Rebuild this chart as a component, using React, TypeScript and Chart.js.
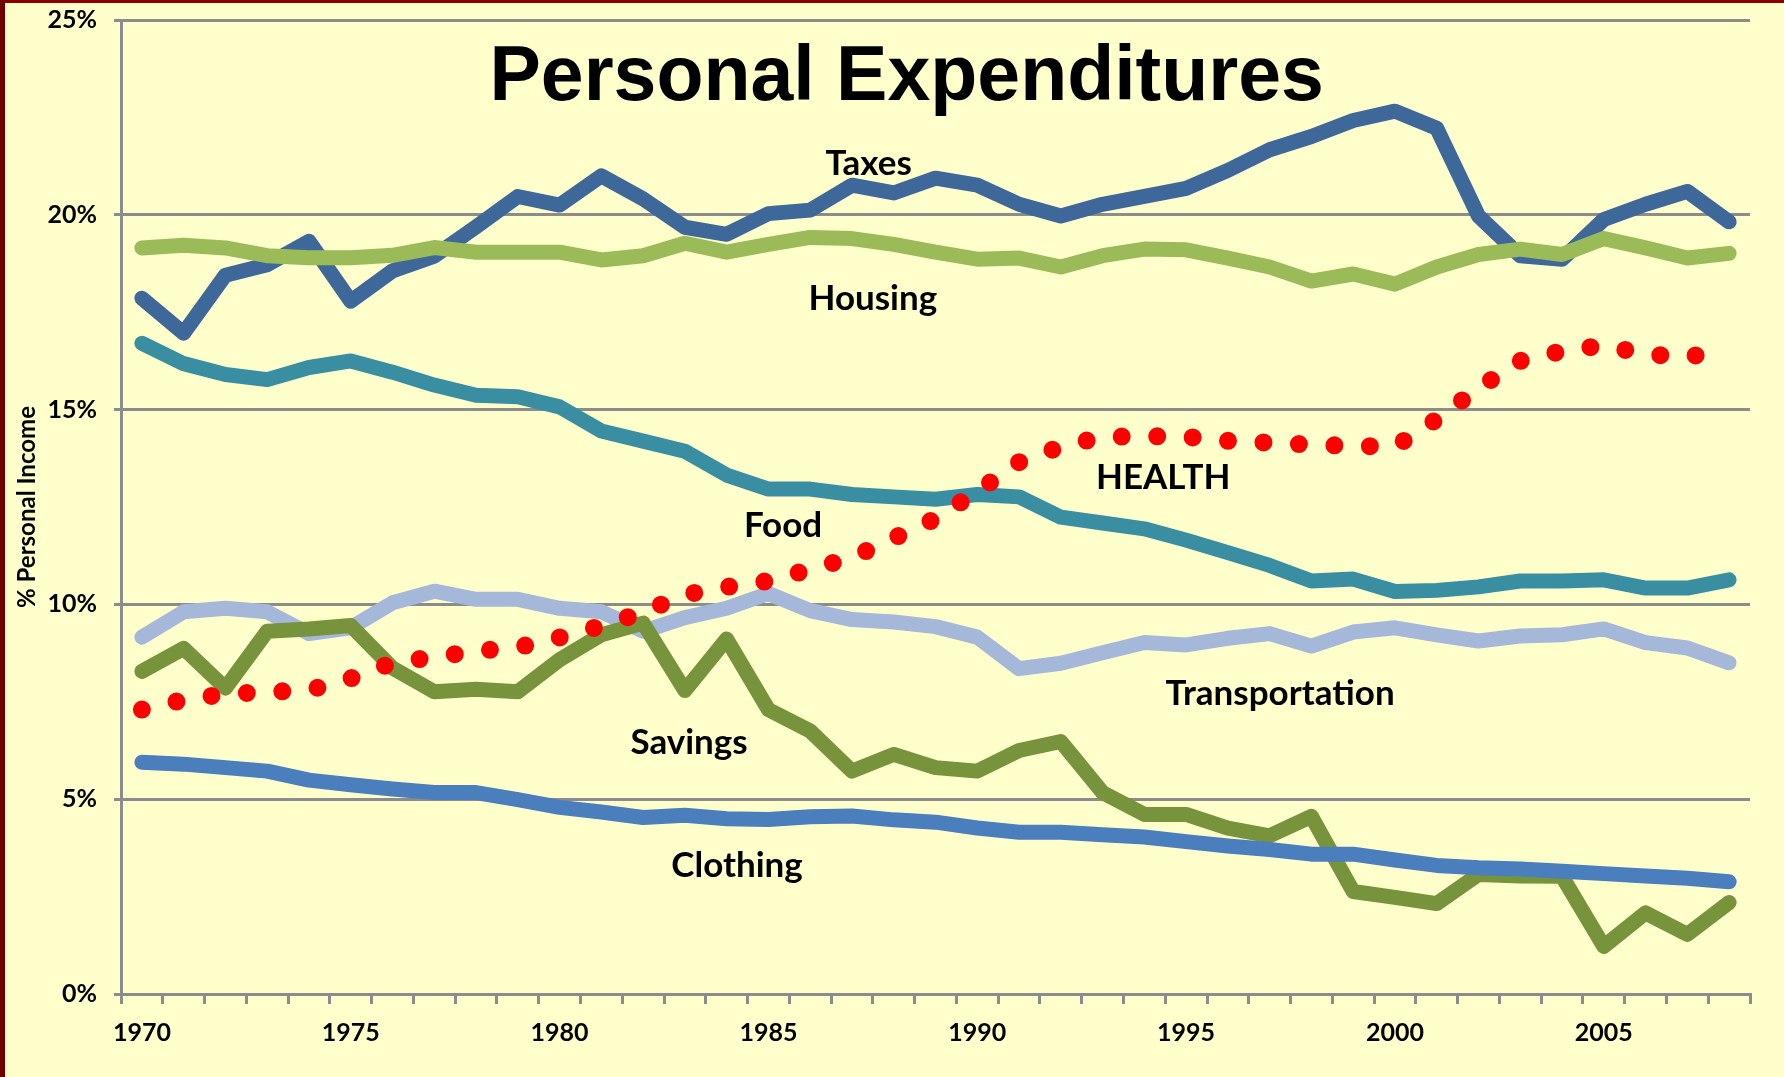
import React, { useEffect, useRef } from "react";
import { Chart, registerables } from "chart.js";

Chart.register(...registerables);

const years = [
  1970, 1971, 1972, 1973, 1974, 1975, 1976, 1977, 1978, 1979,
  1980, 1981, 1982, 1983, 1984, 1985, 1986, 1987, 1988, 1989,
  1990, 1991, 1992, 1993, 1994, 1995, 1996, 1997, 1998, 1999,
  2000, 2001, 2002, 2003, 2004, 2005, 2006, 2007, 2008,
];

const xTickYears = [1970, 1975, 1980, 1985, 1990, 1995, 2000, 2005];
const yTicks = [0, 5, 10, 15, 20, 25];

const taxes = [
  17.86, 16.96, 18.45, 18.72, 19.32, 17.78, 18.56, 18.94, 19.69, 20.47,
  20.25, 21.0, 20.41, 19.68, 19.5, 20.03, 20.12, 20.76, 20.56, 20.94,
  20.76, 20.27, 19.97, 20.27, 20.47, 20.68, 21.14, 21.67, 22.01, 22.42,
  22.66, 22.22, 19.97, 18.95, 18.86, 19.88, 20.27, 20.6, 19.82,
];
const housing = [
  19.15, 19.22, 19.15, 18.95, 18.9, 18.9, 18.96, 19.16, 19.04, 19.04,
  19.04, 18.84, 18.95, 19.27, 19.04, 19.24, 19.42, 19.39, 19.24, 19.04,
  18.86, 18.89, 18.66, 18.95, 19.12, 19.1, 18.89, 18.66, 18.3, 18.48,
  18.22, 18.66, 18.98, 19.12, 18.98, 19.39, 19.15, 18.89, 19.01,
];
const food = [
  16.7, 16.18, 15.9, 15.77, 16.08, 16.25, 15.96, 15.63, 15.37, 15.33,
  15.07, 14.45, 14.19, 13.93, 13.32, 12.96, 12.96, 12.82, 12.76, 12.7,
  12.82, 12.76, 12.24, 12.09, 11.94, 11.65, 11.33, 11.0, 10.6, 10.65,
  10.33, 10.36, 10.45, 10.6, 10.6, 10.63, 10.42, 10.42, 10.63,
];
const health = [
  7.3, 7.55, 7.7, 7.75, 7.8, 8.1, 8.5, 8.65, 8.8, 8.9,
  9.15, 9.45, 9.8, 10.25, 10.45, 10.6, 10.9, 11.2, 11.7, 12.2,
  12.9, 13.65, 14.05, 14.3, 14.32, 14.3, 14.2, 14.15, 14.1, 14.07,
  14.05, 14.75, 15.55, 16.25, 16.5, 16.65, 16.42, 16.35, 16.55,
];
const transportation = [
  9.16, 9.81, 9.9, 9.81, 9.25, 9.4, 10.04, 10.34, 10.13, 10.13,
  9.9, 9.81, 9.31, 9.66, 9.9, 10.28, 9.84, 9.61, 9.55, 9.43,
  9.16, 8.35, 8.49, 8.76, 9.02, 8.96, 9.13, 9.25, 8.93, 9.29,
  9.4, 9.22, 9.06, 9.19, 9.22, 9.37, 9.02, 8.88, 8.5,
];
const savings = [
  8.28, 8.87, 7.85, 9.31, 9.37, 9.46, 8.37, 7.76, 7.82, 7.76,
  8.58, 9.22, 9.52, 7.79, 9.11, 7.3, 6.75, 5.72, 6.15, 5.81,
  5.72, 6.25, 6.48, 5.17, 4.61, 4.61, 4.26, 4.06, 4.56, 2.63,
  2.48, 2.32, 3.07, 3.03, 3.02, 1.22, 2.08, 1.53, 2.35,
];
const clothing = [
  5.95, 5.9, 5.81, 5.72, 5.49, 5.37, 5.26, 5.17, 5.17, 4.99,
  4.79, 4.67, 4.53, 4.59, 4.5, 4.48, 4.55, 4.57, 4.47, 4.41,
  4.26, 4.15, 4.15, 4.09, 4.03, 3.91, 3.8, 3.71, 3.59, 3.59,
  3.44, 3.3, 3.24, 3.21, 3.15, 3.09, 3.03, 2.97, 2.88,
];

// Series labels placed in data space (year, value of text baseline)
const labelNames = ["Taxes", "Housing", "HEALTH", "Food", "Transportation", "Savings", "Clothing"];
const labelYears = [1987.4, 1987.5, 1994.45, 1985.35, 1997.25, 1983.1, 1984.25];
const labelValues = [21.03, 17.56, 12.97, 11.74, 7.43, 6.15, 3.01];

const chartTitle = "Personal Expenditures";
const titleYear = 1988.31;
const titleValue = 22.95;

const yAxisTitle = "% Personal Income";

const GRID = "#8c8c8c";
const LABEL_FONT = "Lato";

const annotationPlugin = {
  id: "seriesLabels",
  afterDatasetsDraw(chart: any) {
    const { ctx, scales } = chart;
    const x = scales.x;
    const y = scales.y;
    ctx.save();
    ctx.fillStyle = "#000";
    ctx.textAlign = "center";
    ctx.textBaseline = "alphabetic";
    ctx.font = `bold 35px ${LABEL_FONT}`;
    labelNames.forEach((t, i) => {
      const px = x.getPixelForValue(labelYears[i] - years[0]);
      const py = y.getPixelForValue(labelValues[i]);
      ctx.fillText(t, px, py);
    });
    ctx.font = 'bold 77px "Liberation Sans"';
    ctx.fillText(
      chartTitle,
      x.getPixelForValue(titleYear - years[0]),
      y.getPixelForValue(titleValue)
    );
    ctx.restore();
  },
};

export default function App() {
  const canvasRef = useRef<HTMLCanvasElement | null>(null);

  useEffect(() => {
    const canvas = canvasRef.current;
    if (!canvas) return;
    const solid = (label: string, data: number[], color: string, width: number, order: number) => ({
      label,
      data,
      borderColor: color,
      backgroundColor: color,
      borderWidth: width,
      borderJoinStyle: "round" as const,
      borderCapStyle: "round" as const,
      pointRadius: 0,
      tension: 0,
      fill: false,
      order,
    });
    const chart = new Chart(canvas, {
      type: "line",
      data: {
        labels: years.map(String),
        datasets: [
          {
            label: "Health",
            data: health,
            borderColor: "#ff0000",
            backgroundColor: "#ff0000",
            borderWidth: 18,
            borderDash: [0, 35.5],
            borderCapStyle: "round" as const,
            borderJoinStyle: "round" as const,
            pointRadius: 0,
            tension: 0,
            fill: false,
            order: 0,
          },
          solid("Clothing", clothing, "#4a7ebd", 15, 1),
          solid("Savings", savings, "#77933c", 15, 2),
          solid("Transportation", transportation, "#a6b8da", 15, 3),
          solid("Food", food, "#3a8ea2", 15, 4),
          solid("Housing", housing, "#9bbb59", 15, 5),
          solid("Taxes", taxes, "#3e6899", 15, 6),
        ],
      },
      options: {
        responsive: false,
        animation: false,
        devicePixelRatio: 1,
        layout: { padding: { top: 20, right: 34, bottom: 0, left: 0 } },
        plugins: {
          legend: { display: false },
          title: { display: false },
          tooltip: { enabled: false },
        },
        scales: {
          x: {
            type: "category",
            offset: true,
            grid: {
              offset: true,
              drawOnChartArea: false,
              drawTicks: true,
              tickLength: 10,
              color: GRID,
              lineWidth: 3,
            },
            border: { display: true, color: GRID, width: 3 },
            ticks: {
              autoSkip: false,
              maxRotation: 0,
              minRotation: 0,
              padding: 14,
              color: "#000",
              font: { family: LABEL_FONT, weight: "bold", size: 25 },
              callback: (_v: any, i: number) =>
                xTickYears.includes(years[i]) ? String(years[i]) : "",
            },
            afterFit: (scale: any) => {
              scale.height = 83;
              scale.paddingLeft = 0;
              scale.paddingRight = 0;
            },
          },
          y: {
            type: "linear",
            min: yTicks[0],
            max: yTicks[yTicks.length - 1],
            afterBuildTicks: (scale: any) => {
              scale.ticks = yTicks.map((v) => ({ value: v }));
            },
            grid: {
              color: GRID,
              lineWidth: 3,
              drawTicks: true,
              tickLength: 7,
            },
            border: { display: true, color: GRID, width: 3 },
            ticks: {
              padding: 17,
              color: "#000",
              font: { family: LABEL_FONT, weight: "bold", size: 25 },
              callback: (v: any) => `${v}%`,
            },
            title: {
              display: true,
              text: yAxisTitle,
              color: "#000",
              font: { family: LABEL_FONT, weight: "bold", size: 24 },
              padding: { top: 13, bottom: 0 },
            },
            afterFit: (scale: any) => {
              scale.width = 121;
              scale.paddingTop = 0;
              scale.paddingBottom = 0;
            },
          },
        },
      },
      plugins: [annotationPlugin],
    });
    return () => chart.destroy();
  }, []);

  return (
    <div
      style={{
        position: "fixed",
        left: 0,
        top: 0,
        width: 1784,
        height: 1077,
        background: "#ffffcc",
        overflow: "hidden",
      }}
    >
      <div style={{ position: "absolute", left: 0, top: 0, width: 1784, height: 3, background: "#8a0000" }} />
      <div style={{ position: "absolute", left: 0, top: 0, width: 5, height: 1077, background: "#720000" }} />
      <canvas
        ref={canvasRef}
        width={1784}
        height={1077}
        style={{ position: "absolute", left: 0, top: 0, display: "block" }}
      />
    </div>
  );
}
